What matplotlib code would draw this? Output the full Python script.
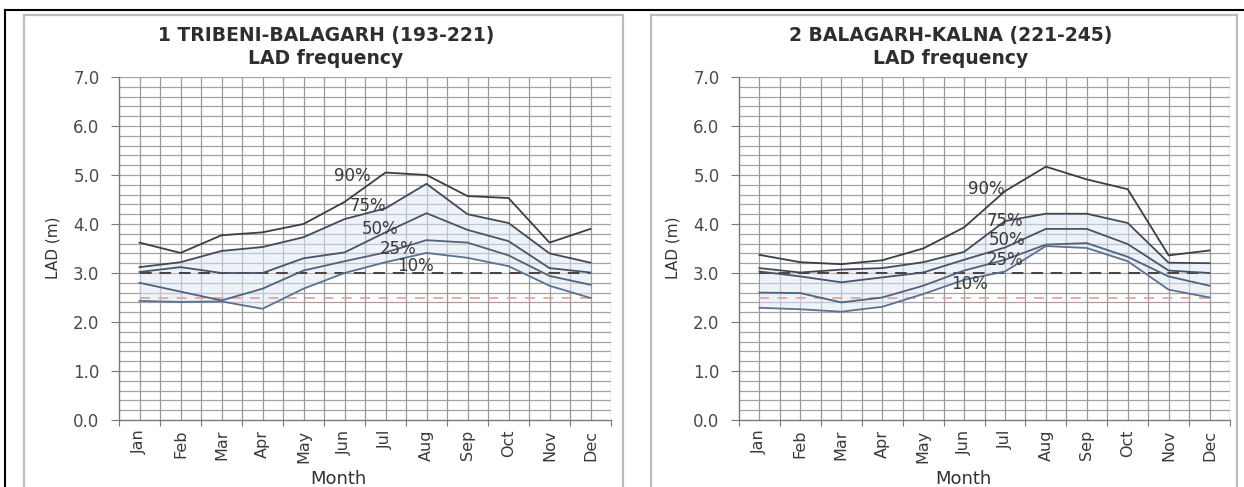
import numpy as np
import matplotlib
matplotlib.use("Agg")
import matplotlib.pyplot as plt
from matplotlib.patches import Rectangle
from matplotlib.lines import Line2D

plt.rcParams['font.family'] = ['DejaVu Sans']

months = ["Jan", "Feb", "Mar", "Apr", "May", "Jun", "Jul", "Aug", "Sep", "Oct", "Nov", "Dec"]
levels = ["90%", "75%", "50%", "25%", "10%"]

# panel 1: TRIBENI-BALAGARH
lad1_90 = [3.62, 3.41, 3.77, 3.83, 4.0, 4.45, 5.05, 5.0, 4.57, 4.53, 3.62, 3.9]
lad1_75 = [3.12, 3.22, 3.45, 3.53, 3.73, 4.1, 4.32, 4.82, 4.2, 4.02, 3.4, 3.21]
lad1_50 = [3.02, 3.12, 3.0, 3.0, 3.3, 3.42, 3.83, 4.22, 3.88, 3.65, 3.1, 3.01]
lad1_25 = [2.8, 2.62, 2.44, 2.68, 3.05, 3.24, 3.42, 3.67, 3.62, 3.36, 2.94, 2.76]
lad1_10 = [2.43, 2.41, 2.42, 2.27, 2.68, 3.0, 3.22, 3.41, 3.31, 3.14, 2.74, 2.49]

# panel 2: BALAGARH-KALNA
lad2_90 = [3.37, 3.22, 3.18, 3.26, 3.5, 3.93, 4.67, 5.17, 4.91, 4.71, 3.36, 3.46]
lad2_75 = [3.1, 3.01, 3.07, 3.1, 3.22, 3.43, 4.06, 4.21, 4.21, 4.02, 3.21, 3.2]
lad2_50 = [3.03, 2.93, 2.81, 2.91, 3.01, 3.27, 3.52, 3.9, 3.9, 3.59, 3.05, 3.0]
lad2_25 = [2.6, 2.59, 2.4, 2.5, 2.74, 3.05, 3.27, 3.58, 3.61, 3.33, 2.93, 2.74]
lad2_10 = [2.29, 2.26, 2.21, 2.31, 2.57, 2.86, 3.03, 3.55, 3.51, 3.24, 2.66, 2.5]

titles = ["1 TRIBENI-BALAGARH (193-221)", "2 BALAGARH-KALNA (221-245)"]
# label anchor (month index, value) for each percentile
labpos1 = [(5.18, 4.97), (5.57, 4.37), (5.86, 3.89), (6.3, 3.5), (6.73, 3.15)]
labpos2 = [(5.55, 4.72), (6.0, 4.07), (6.04, 3.68), (6.0, 3.27), (5.14, 2.77)]

line_cols = ["#3a3e47", "#434a57", "#4a5466", "#536279", "#5c7190"]

W, H = 1244, 487
fig = plt.figure(figsize=(W / 100, H / 100), dpi=100)

# outer black frame and panel frames
fig.add_artist(Line2D([5 / W, 1], [1 - 10 / H, 1 - 10 / H], color="black", lw=1.5))
fig.add_artist(Line2D([5 / W, 5 / W], [0, 1 - 10 / H], color="black", lw=1.5))
for x0, x1 in [(24, 623), (651, 1237)]:
    fig.add_artist(Rectangle((x0 / W, -0.01), (x1 - x0) / W, 1 - 15 / H + 0.01,
                             fill=False, ec="#bdbdbd", lw=1.6))

panels = [
    (119, 611, [lad1_90, lad1_75, lad1_50, lad1_25, lad1_10], labpos1, 326),
    (739, 1230, [lad2_90, lad2_75, lad2_50, lad2_25, lad2_10], labpos2, 951),
]
top_px, bot_px = 77, 420
x = np.arange(len(months))

for i, (xl, xr, series, labpos, tcx) in enumerate(panels):
    ax = fig.add_axes([xl / W, 1 - bot_px / H, (xr - xl) / W, (bot_px - top_px) / H])
    ax.set_xlim(-0.5, 11.5)
    ax.set_ylim(0, 7)

    # grid: every 0.2 horizontally, every half month vertically
    for yv in np.arange(0.2, 7.01, 0.2):
        ax.axhline(yv, color="#a3a3a3", lw=0.9, zorder=0)
    for xv in np.arange(0, 12, 0.5):
        ax.axvline(xv, color="#9a9a9a", lw=0.9, zorder=0)

    ax.fill_between(x, series[4], series[1], color="#dde9f5", alpha=0.5, lw=0, zorder=1)

    ax.plot(x, [3.0] * 12, color="#4a4040", lw=1.4, ls=(0, (6, 4)), zorder=2)
    ax.plot(x, [2.5] * 12, color="#e0a290", lw=1.2, ls=(0, (6, 5)), zorder=2)

    for s, c in zip(series, line_cols):
        ax.plot(x, s, color=c, lw=1.3, zorder=3)
    for lab, (lx, ly) in zip(levels, labpos):
        ax.text(lx, ly, lab, ha="center", va="center", fontsize=12, color="#3a3a3a", zorder=4)

    for sp in ["top", "right"]:
        ax.spines[sp].set_visible(False)
    for sp in ["left", "bottom"]:
        ax.spines[sp].set_color("#7a7a7a")
        ax.spines[sp].set_linewidth(1.0)

    ax.set_yticks(np.arange(0, 7.01, 1.0))
    ax.set_yticklabels([f"{v:.1f}" for v in np.arange(0, 7.01, 1.0)])
    ax.set_xticks(np.arange(-0.5, 12, 1.0))
    ax.set_xticklabels([])
    ax.set_xticks(x, minor=True)
    ax.set_xticklabels(months, minor=True, rotation=90)
    ax.tick_params(axis="y", length=6, color="#7a7a7a", labelsize=12, labelcolor="#4a4a4a", pad=8)
    ax.tick_params(axis="x", which="major", length=4, color="#7a7a7a")
    ax.tick_params(axis="x", which="minor", length=0, labelsize=11.5, labelcolor="#3a3a3a", pad=7)

    fig.text((xl - 66) / W, 1 - 248 / H, "LAD (m)", rotation=90, ha="center", va="center",
             fontsize=11, color="#333333")
    fig.text(tcx / W, 1 - 36 / H, titles[i], ha="center", va="center",
             fontsize=13.5, fontweight="bold", color="#2e2e2e")
    fig.text(tcx / W, 1 - 58 / H, "LAD frequency", ha="center", va="center",
             fontsize=13.5, fontweight="bold", color="#2e2e2e")
    fig.text((tcx + 12) / W, 1 - 479 / H, "Month", ha="center", va="center",
             fontsize=13, color="#333333")

fig.savefig("out.png", dpi=100, facecolor="white")
